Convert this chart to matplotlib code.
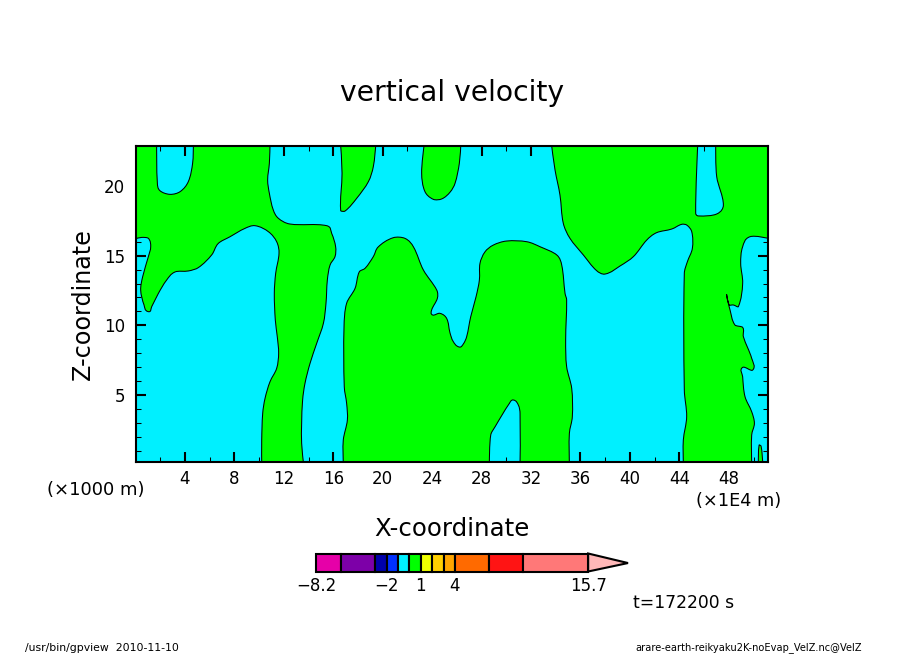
import matplotlib
matplotlib.use("Agg")
import matplotlib.pyplot as plt
import numpy as np
from matplotlib.patches import Polygon, Rectangle, PathPatch
from matplotlib.path import Path
from matplotlib.ticker import MultipleLocator, FixedLocator

W, H = 904, 654
GREEN = "#00FF00"
CYAN = "#00F0FF"
XLIM = (0.04, 51.17)
ZLIM = (0.19, 22.87)

# Positive-velocity regions (x in 1E4 m, z in 1000 m)
region_a = [(0.04,22.87),(1.71,22.87),(1.77,20.19),(1.98,19.66),(2.79,19.40),(3.60,19.59),(4.27,20.31),(4.62,21.63),(4.68,22.87),
 (10.88,22.87),(10.83,21.63),(10.69,20.43),(10.83,19.47),(11.15,18.27),(11.56,17.68),(12.50,17.27),(15.47,17.15),(15.87,16.60),
 (16.19,15.64),(16.14,14.93),(15.74,14.33),(15.52,13.25),(15.41,11.58),(15.20,10.14),(14.66,8.71),(14.12,7.27),(13.71,5.83),
 (13.52,4.64),(13.44,2.96),(13.44,1.53),(13.58,0.19),(10.21,0.19),(10.21,1.77),(10.29,3.68),(10.48,4.76),(10.88,5.95),(11.42,6.91),
 (11.58,7.99),(11.47,9.18),(11.31,10.38),(11.23,12.29),(11.34,13.73),(11.61,15.17),(11.42,16.00),(10.75,16.72),(9.67,17.15),
 (8.86,16.96),(7.65,16.36),(6.70,15.88),(6.16,15.05),(5.08,14.14),(4.27,13.90),(3.20,13.83),(2.52,13.25),(1.85,12.29),(1.31,11.34),
 (1.04,10.98),(0.69,11.46),(0.42,12.53),(0.58,13.49),(1.04,14.93),(1.23,15.64),(1.04,16.24),(0.50,16.31),(0.04,16.22)]
region_b = [(16.60,22.87),(16.71,20.91),(16.60,18.23),(16.95,18.20),(17.89,19.11),(18.84,20.31),(19.24,21.39),(19.43,22.87)]
region_c = [(23.34,22.87),(23.15,20.91),(23.42,19.59),(24.10,19.04),(24.77,19.07),(25.44,19.55),(25.85,20.19),(26.20,21.63),(26.31,22.87)]
region_d = [(16.81,0.19),(16.81,1.77),(17.14,3.20),(17.08,4.40),(16.89,5.59),(16.87,9.90),(17.08,11.58),(17.76,12.65),(18.11,13.85),
 (18.57,14.09),(19.24,14.93),(19.65,15.64),(20.86,16.29),(21.80,16.24),(22.48,15.64),(23.29,13.97),(24.37,12.53),(24.42,11.94),
 (23.96,11.10),(24.04,10.74),(24.63,10.86),(25.17,10.50),(25.44,9.47),(25.71,8.83),(26.20,8.44),(26.52,8.66),(26.79,9.18),(27.12,10.62),
 (27.55,12.05),(27.82,13.25),(27.87,14.45),(28.28,15.28),(28.95,15.76),(30.03,16.05),(31.65,16.00),(32.73,15.64),(34.08,15.05),
 (34.48,14.33),(34.75,12.29),(34.88,11.82),(34.80,8.94),(34.88,7.03),(35.29,5.47),(35.34,3.44),(35.10,2.24),(35.10,0.19),(31.11,0.19),
 (31.11,3.68),(30.97,4.28),(30.57,4.64),(30.25,4.40),(29.09,2.72),(28.74,2.13),(28.63,0.19)]
region_e = [(33.67,22.87),(45.48,22.87),(45.32,18.04),(45.54,17.85),(47.02,17.99),(47.56,18.63),(47.02,20.67),(46.94,22.87),(51.17,22.87),
 (51.17,16.24),(49.72,16.36),(49.12,15.64),(48.96,14.45),(49.12,13.01),(48.77,11.34),(48.37,11.46),(48.04,11.46),(47.83,12.17),
 (48.10,11.10),(48.50,10.02),(49.12,9.85),(49.18,9.18),(49.85,7.63),(49.93,6.79),(49.12,6.98),(49.12,6.31),(49.31,4.88),(49.85,3.80),
 (50.07,2.96),(49.85,2.13),(49.85,0.19),(44.32,0.19),(44.32,1.77),(44.59,3.44),(44.40,5.36),(44.40,13.73),(44.65,14.57),(45.05,15.52),
 (45.00,16.72),(44.59,17.20),(44.19,17.25),(43.38,16.91),(42.16,16.65),(41.36,16.12),(40.28,14.93),(39.20,14.26),(37.99,13.68),
 (37.31,13.92),(36.23,15.05),(35.15,16.24),(34.61,17.32),(34.34,19.35),(33.94,21.15)]
region_f = [(50.39,0.19),(50.45,1.41),(50.61,1.33),(50.74,0.19)]
regions = [region_a, region_b, region_c, region_d, region_e, region_f]

# Colour bar
levels = [-8.2,-6,-3,-2,-1,0,1,2,3,4,7,10,15.7]
level_colors = ["#E600A8","#7D00A8","#0000AA","#0030FF","#00F0FF","#00FF00","#F0FF00",
                "#FFD000","#FFA500","#FF6A00","#FF1414","#FF7878"]
over_color = "#FFB8B8"
over_tip = 19.2
bar_ticks = [-8.2,-2,1,4,15.7]
bar_labels = ["−8.2","−2","1","4","15.7"]

x_major = [4,8,12,16,20,24,28,32,36,40,44,48]
z_major = [5,10,15,20]

fig = plt.figure(figsize=(W/100, H/100), dpi=100, facecolor="white")
plt.rcParams["font.family"] = "DejaVu Sans"

def rect(l, t, r, b):
    return [l/W, 1-b/H, (r-l)/W, (b-t)/H]

def smooth_path(pts):
    """Closed Bezier path through the traced outline; points on the frame stay corners."""
    P = np.array(pts, float)
    n = len(P)
    on_frame = np.isin(P[:, 0], XLIM) | np.isin(P[:, 1], ZLIM)
    tang = np.zeros_like(P)
    for i in range(n):
        if not on_frame[i]:
            tang[i] = (P[(i+1) % n] - P[i-1]) / 2
    scale = np.array([1.0, 2.2])          # axes aspect, x and z in comparable units
    verts, codes = [P[0]], [Path.MOVETO]
    for i in range(n):
        j = (i+1) % n
        seg = np.linalg.norm((P[j]-P[i])*scale)
        def ctrl(t):
            m = np.linalg.norm(t*scale)
            return t * (seg/3/m) if m > 1e-9 else t
        verts += [P[i] + ctrl(tang[i]), P[j] - ctrl(tang[j]), P[j]]
        codes += [Path.CURVE4]*3
    verts.append(P[0]); codes.append(Path.CLOSEPOLY)
    return Path(np.array(verts), codes)

ax = fig.add_axes(rect(136, 146, 768, 462))
ax.set_xlim(*XLIM)
ax.set_ylim(*ZLIM)
ax.set_facecolor(CYAN)
for r in regions:
    ax.add_patch(PathPatch(smooth_path(r), facecolor=GREEN, edgecolor="black", lw=0.75, zorder=2))
for s in ax.spines.values():
    s.set_linewidth(1.5)
    s.set_zorder(5)
ax.xaxis.set_major_locator(FixedLocator(x_major))
ax.xaxis.set_minor_locator(MultipleLocator(2))
ax.yaxis.set_major_locator(FixedLocator(z_major))
ax.yaxis.set_minor_locator(MultipleLocator(1))
ax.tick_params(which="major", direction="in", length=7.2, width=1.5, top=True, right=True, labelsize=12, pad=8)
ax.tick_params(axis="x", which="major", pad=5.5)
ax.tick_params(which="minor", direction="in", length=3.6, width=0.75, top=True, right=True)
for t in ax.get_xticklines() + ax.get_yticklines():
    t.set_zorder(6)

def ptext(x, y, s, size, ha="center", rotation=0):
    fig.text(x/W, 1-y/H, s, fontsize=size, ha=ha, va="center", rotation=rotation)

ptext(452, 93, "vertical velocity", 20.3)
ptext(452, 529, "X-coordinate", 17.6)
ptext(83, 304, "Z-coordinate", 17.2, rotation=90)
ptext(96, 490, "(×1000 m)", 13)
ptext(739, 501, "(×1E4 m)", 12.8)
ptext(684, 603, "t=172200 s", 12.3)
ptext(25, 648, "/usr/bin/gpview  2010-11-10", 7.8, ha="left")
ptext(862, 648, "arare-earth-reikyaku2K-noEvap_VelZ.nc@VelZ", 7.1, ha="right")

# Colour bar axes spans lowest level to the tip of the over-range triangle
cax = fig.add_axes(rect(316, 553.5, 628, 571.5))
cax.set_xlim(levels[0], over_tip)
cax.set_ylim(0, 1)
cax.axis("off")
for lo, hi, c in zip(levels[:-1], levels[1:], level_colors):
    cax.add_patch(Rectangle((lo, 0), hi-lo, 1, facecolor=c, edgecolor="black", lw=1.5, clip_on=False))
cax.add_patch(Polygon([(levels[-1], 1), (over_tip, 0.47), (levels[-1], 0)], closed=True,
                      facecolor=over_color, edgecolor="black", lw=1.5, clip_on=False, zorder=0.5))
for v, s in zip(bar_ticks, bar_labels):
    cax.text(v, -0.8, s, ha="center", va="center", fontsize=12)

fig.savefig("out.png", dpi=100)
